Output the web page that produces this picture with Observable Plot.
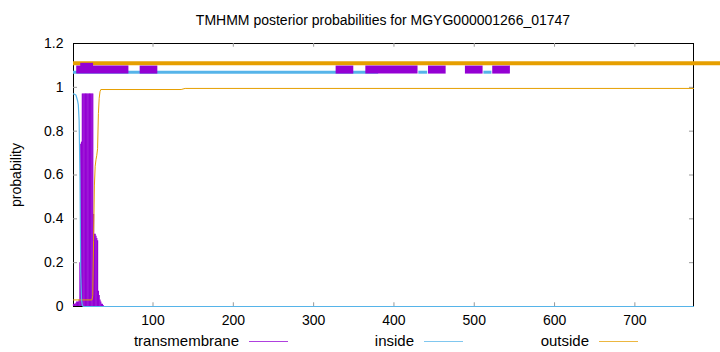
<!DOCTYPE html>
<html><head><meta charset="utf-8">
<script src="https://cdn.jsdelivr.net/npm/d3@7"></script>
<script src="https://cdn.jsdelivr.net/npm/@observablehq/plot@0.6"></script>
<style>
body{margin:0;background:#fff;}
#wrap{position:relative;width:720px;height:352px;font-family:"Liberation Sans",Arial,sans-serif;color:#000;overflow:hidden;}
#title{position:absolute;left:73px;width:620px;top:12px;text-align:center;font-size:14px;white-space:nowrap;}
#ylab{position:absolute;left:16px;top:175px;transform:translate(-50%,-50%) rotate(-90deg);font-size:14px;white-space:nowrap;}
.legt{position:absolute;top:332px;font-size:15px;white-space:nowrap;}
.legl{position:absolute;top:341px;height:0;border-top:1px solid;}
</style></head>
<body><div id="wrap"><div id="title">TMHMM posterior probabilities for MGYG000001266_01747</div><div id="ylab">probability</div></div>
<script>
// ---- data ----
const seqLength = 773;
const xTicks = [100, 200, 300, 400, 500, 600, 700];
const yTicks = [0, 0.2, 0.4, 0.6, 0.8, 1, 1.2];
const yTickLabels = ["0", "0.2", "0.4", "0.6", "0.8", "1", "1.2"];

// transmembrane posterior (impulses), per residue
const tmPos = [1,2,3,4,5,6,7,8,9,10,11,12,13,14,15,16,17,18,19,20,21,22,23,24,25,26,27,28,29,30,31,32,33,34,35,36,37,38];
const tmVal = [0.01,0.01,0.01,0.015,0.02,0.02,0.02,0.03,0.2,0.74,0.75,0.97,0.97,0.97,0.97,0.97,0.97,0.97,0.97,0.97,0.97,0.97,0.97,0.97,0.97,0.42,0.33,0.33,0.32,0.31,0.3,0.07,0.05,0.03,0.02,0.01,0.01,0.005];

// inside posterior (line)
const inPos = [1, 4, 6, 7, 8, 9, 10, 11, 12, 13, 773];
const inVal = [0.97, 0.965, 0.94, 0.92, 0.85, 0.6, 0.16, 0.03, 0.005, 0, 0];

// outside posterior (line)
const outPos = [1, 24, 25, 26, 27, 28, 29, 30, 31, 32, 33, 34, 35, 135, 140, 773];
const outVal = [0.03, 0.03, 0.05, 0.3, 0.55, 0.64, 0.67, 0.69, 0.72, 0.88, 0.95, 0.98, 0.99, 0.99, 0.995, 0.995];

// predicted topology segments (top bars)
const outsideSegStart = [1];
const outsideSegEnd = [830];
const insideSegStart = [1, 431, 512];
const insideSegEnd = [381, 442, 522];
const tmSegStart = [5, 84, 328, 365, 443, 489, 523];
const tmSegEnd = [70, 106, 350, 430, 465, 511, 545];
const tmCoreStart = [10];
const tmCoreEnd = [26];

// ---- build tables ----
const tm = tmPos.map((x, i) => ({x, p: tmVal[i]}));
const inside = inPos.map((x, i) => ({x, p: inVal[i]}));
const outside = outPos.map((x, i) => ({x, p: outVal[i]}));
const seg = (s, e) => s.map((a, i) => ({a, b: e[i]}));

const C_TM = "#9400d3", C_IN = "#56b4e9", C_OUT = "#e69f00";

const chart = Plot.plot({
  width: 720, height: 352,
  marginLeft: 73, marginRight: 27, marginTop: 43, marginBottom: 46,
  style: {fontFamily: '"Liberation Sans", Arial, sans-serif', fontSize: "14px", background: "transparent", color: "#000", overflow: "visible"},
  x: {domain: [1, seqLength], ticks: xTicks, tickSize: 0, tickPadding: 9, label: null, tickFormat: d => String(d)},
  y: {domain: [0, 1.2], ticks: yTicks, tickSize: 0, tickPadding: 10, label: null, tickFormat: (d, i) => yTickLabels[i]},
  marks: [
    Plot.frame({stroke: "#000"}),
    Plot.ruleX(xTicks, {x: d => d, y1: 0, y2: 0.017, stroke: "#999"}),
    Plot.ruleX(xTicks, {x: d => d, y1: 1.2, y2: 1.183, stroke: "#999"}),
    Plot.ruleY(yTicks.slice(1, -1), {y: d => d, x1: 1, x2: 6, stroke: "#999"}),
    Plot.ruleY(yTicks.slice(1, -1), {y: d => d, x1: seqLength - 5, x2: seqLength, stroke: "#999"}),
    Plot.ruleX(tm, {x: "x", y1: 0, y2: "p", stroke: C_TM, strokeWidth: 1.2}),
    Plot.line(outside, {x: "x", y: "p", stroke: C_OUT, strokeWidth: 1}),
    Plot.line(inside, {x: "x", y: "p", stroke: C_IN, strokeWidth: 1.2}),
    Plot.ruleY(seg(outsideSegStart, outsideSegEnd), {y: 1.11, x1: "a", x2: "b", stroke: C_OUT, strokeWidth: 4}),
    Plot.ruleY(seg(insideSegStart, insideSegEnd), {y: 1.069, x1: "a", x2: "b", stroke: C_IN, strokeWidth: 3}),
    Plot.ruleY(seg(tmSegStart, tmSegEnd), {y: 1.081, x1: "a", x2: "b", stroke: C_TM, strokeWidth: 8}),
    Plot.ruleY(seg(tmCoreStart, tmCoreEnd), {y: 1.089, x1: "a", x2: "b", stroke: C_TM, strokeWidth: 10})
  ]
});
chart.style.position = "absolute";
chart.style.left = "0px";
chart.style.top = "0px";
const wrap = document.getElementById("wrap");
wrap.insertBefore(chart, wrap.firstChild);

// legend
const legendNames = ["transmembrane", "inside", "outside"];
const legendColors = [C_TM, C_IN, C_OUT];
const legendTextRight = [239, 414, 589];
const legendLineLeft = [249, 424, 599];
legendNames.forEach((n, i) => {
  const t = document.createElement("div");
  t.className = "legt"; t.textContent = n;
  t.style.right = (720 - legendTextRight[i]) + "px";
  wrap.appendChild(t);
  const l = document.createElement("div");
  l.className = "legl";
  l.style.left = legendLineLeft[i] + "px"; l.style.width = "39px";
  l.style.borderColor = legendColors[i];
  l.style.opacity = 0.75;
  wrap.appendChild(l);
});
</script>
</body></html>
